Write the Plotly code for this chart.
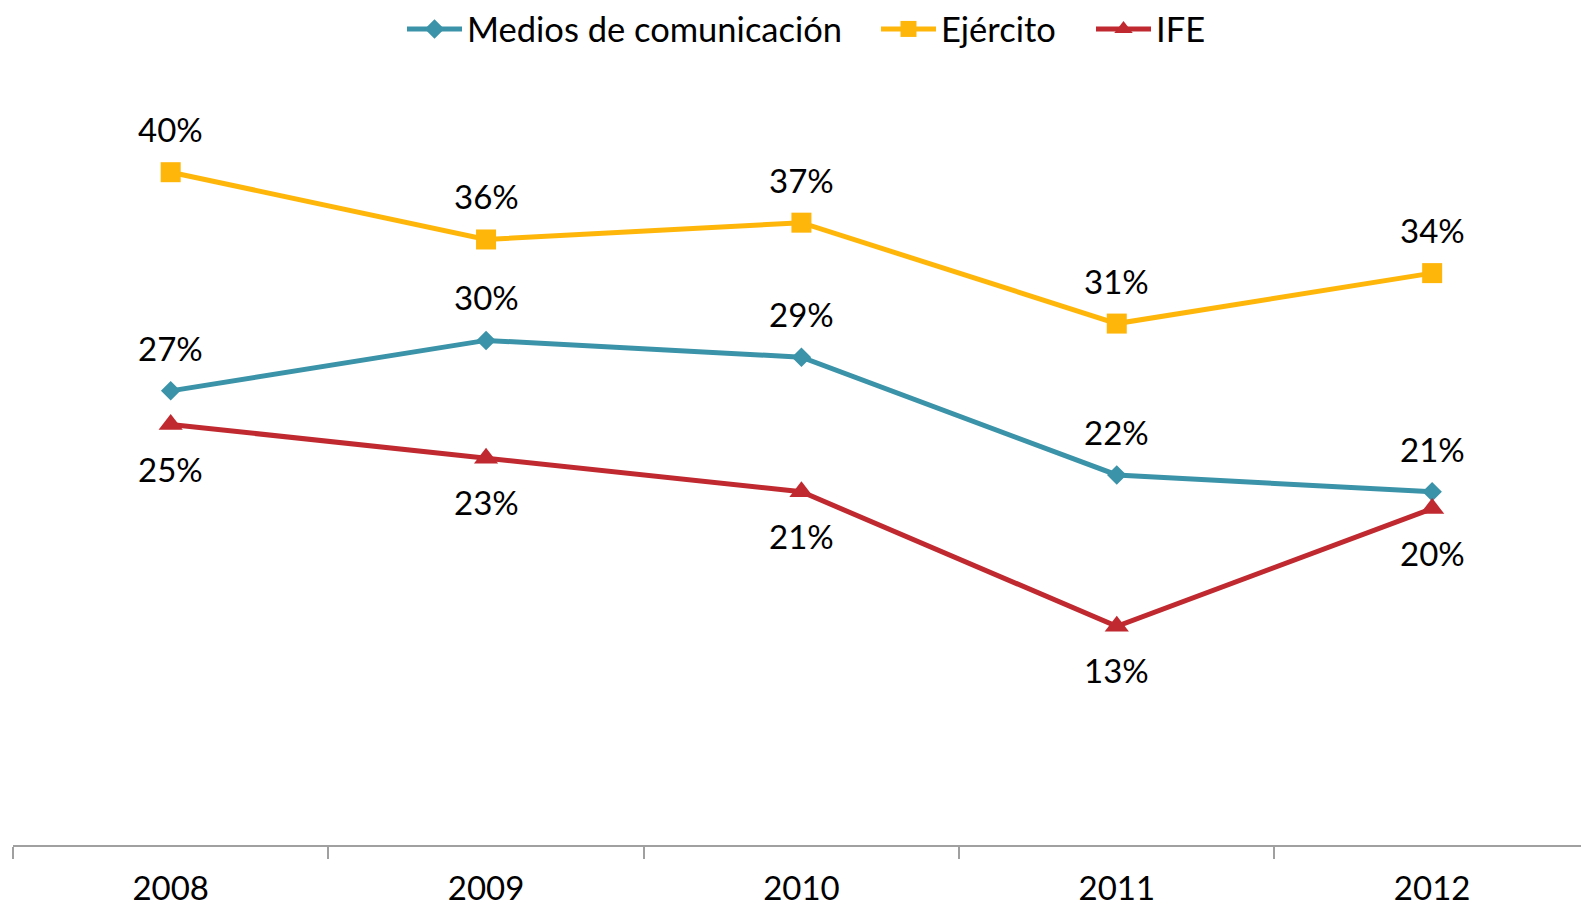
import plotly.graph_objects as go

years = ["2008", "2009", "2010", "2011", "2012"]
medios = [27, 30, 29, 22, 21]
ejercito = [40, 36, 37, 31, 34]
ife = [25, 23, 21, 13, 20]

names = ["Medios de comunicación", "Ejército", "IFE"]
colors = ["#3A93A8", "#FFB60A", "#C0292F"]
symbols = ["diamond", "square", "triangle-up"]
sizes = [15, 20, 21]
label_shift = [43, 43, -44]
legend_ids = ["legend", "legend2", "legend3"]
legend_px = [402, 876, 1091]

FONT = "Lato"
L_MARGIN = 13
PLOT_W = 1581 - L_MARGIN
PLOT_H = 906 - 3 - 61

fig = go.Figure()
series = [medios, ejercito, ife]
for name, vals, col, sym, sz, lg in zip(names, series, colors, symbols, sizes, legend_ids):
    fig.add_trace(go.Scatter(
        x=years, y=vals, name=name, mode="lines+markers",
        line=dict(color=col, width=5),
        marker=dict(symbol=sym, size=sz, color=col),
        cliponaxis=False, legend=lg,
    ))

annotations = []
for vals, shift in zip(series, label_shift):
    for i, v in enumerate(vals):
        annotations.append(dict(
            x=i, y=v, xref="x", yref="y", text=f"{v}%", showarrow=False,
            yshift=shift, yanchor="middle", xanchor="center",
            font=dict(family=FONT, size=33, color="#000000"),
        ))

legend_common = dict(orientation="h", xanchor="left", y=1.0 + 4 / PLOT_H, yanchor="top",
                     font=dict(family=FONT, size=34.5, color="#000000"),
                     bgcolor="rgba(0,0,0,0)", itemwidth=55, borderwidth=0)
legends = {}
for lg, px in zip(legend_ids, legend_px):
    legends[lg] = dict(legend_common, x=(px - L_MARGIN) / PLOT_W)

fig.update_layout(
    width=1581, height=906,
    margin=dict(l=L_MARGIN, r=0, t=3, b=61),
    paper_bgcolor="white", plot_bgcolor="white",
    annotations=annotations,
    showlegend=True,
    xaxis=dict(
        type="category", range=[-0.5, 4.472],
        showgrid=False, zeroline=False,
        showline=True, linecolor="#A0A0A0", linewidth=1.5,
        ticks="outside", tickson="boundaries", ticklen=12, tickcolor="#A0A0A0", tickwidth=1.5,
        tickfont=dict(family=FONT, size=33, color="#000000"),
        ticklabelstandoff=14,
    ),
    yaxis=dict(range=[0, 50], showticklabels=False, showline=False, ticks="",
               showgrid=False, zeroline=False),
    **legends,
)

fig.write_html("out.html", config={"displayModeBar": False},
               post_script="document.body.style.margin='0';")
